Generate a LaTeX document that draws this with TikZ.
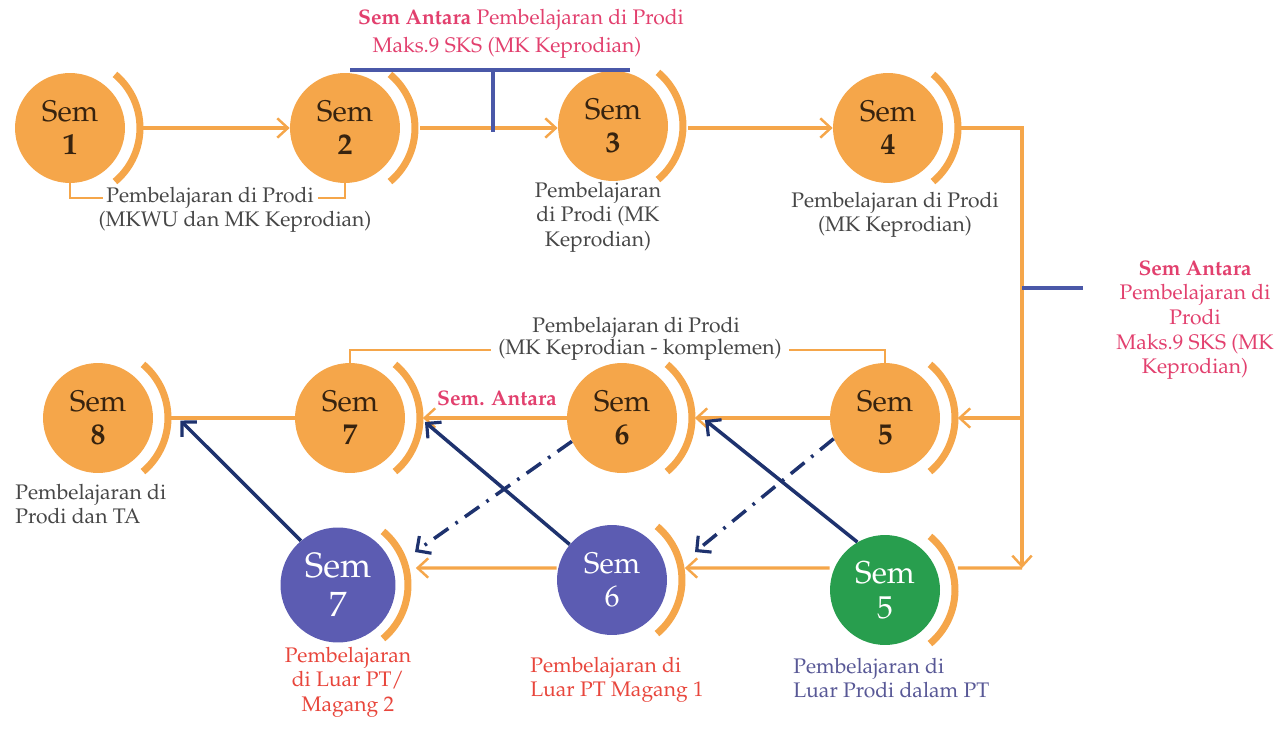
\documentclass[tikz,border=0pt]{standalone}
\usepackage[T1]{fontenc}
\usepackage{mathpazo}
\usetikzlibrary{arrows.meta}
\definecolor{orng}{RGB}{245,166,74}
\definecolor{blu}{RGB}{92,92,178}
\definecolor{grn}{RGB}{40,158,78}
\definecolor{navy}{RGB}{30,50,110}
\definecolor{pinkt}{RGB}{226,64,110}
\definecolor{redt}{RGB}{232,70,60}
\definecolor{purp}{RGB}{88,88,150}
\definecolor{brk}{RGB}{74,88,168}
\definecolor{txt}{RGB}{70,70,70}
\definecolor{semtxt}{RGB}{55,35,15}
\newcommand\cres[2]{\draw[crescent] ([shift={(-50:#2)}]#1.center) arc[start angle=-50,end angle=50,radius=#2];}
\begin{document}
\begin{tikzpicture}[x=0.02cm,y=0.02cm,
  sem/.style={circle, fill=orng, minimum size=2.2cm, inner sep=0pt, align=center,
    font=\fontsize{17}{19}\selectfont, text=semtxt},
  bsem/.style={sem, fill=blu, text=white, minimum size=2.3cm, font=\fontsize{20}{22}\selectfont},
  gsem/.style={sem, fill=grn, text=white, font=\fontsize{18}{20}\selectfont},
  crescent/.style={draw=orng, line width=4pt},
  flow/.style={draw=orng, line width=1.8pt, -{Straight Barb[length=6pt,width=11pt,line width=1.4pt]}},
  plainline/.style={draw=orng, line width=1.8pt},
  bracket/.style={draw=orng, line width=1.3pt},
  bbracket/.style={draw=brk, line width=2.4pt},
  jump/.style={draw=navy, line width=2pt, -{Straight Barb[length=6pt,width=12pt,line width=1.8pt]}},
  djump/.style={jump, dash pattern=on 10pt off 5pt on 1.5pt off 5pt},
  lbl/.style={text=txt, font=\fontsize{12}{14}\selectfont, align=center, inner sep=0pt},
  plbl/.style={lbl, text=pinkt},
  rlbl/.style={lbl, text=redt},
  ulbl/.style={lbl, text=purp}
]
\useasboundingbox (0,0) rectangle (1283,-736);

% circles
\node[sem] (s1) at (70,-128) {Sem\\\textbf{1}};
\node[sem] (s2) at (345,-128) {Sem\\\textbf{2}};
\node[sem] (s3) at (613,-126) {Sem\\\textbf{3}};
\node[sem] (s4) at (888,-128) {Sem\\\textbf{4}};
\node[sem] (s8) at (98,-418) {Sem\\\textbf{8}};
\node[sem] (s7) at (350,-418) {Sem\\\textbf{7}};
\node[sem] (s6) at (622,-418) {Sem\\\textbf{6}};
\node[sem] (s5) at (885,-418) {Sem\\\textbf{5}};
\node[bsem] (b7) at (338,-585) {Sem\\7};
\node[bsem, minimum size=2.2cm, font=\fontsize{17}{19}\selectfont] (b6) at (612,-580) {Sem\\6};
\node[gsem] (g5) at (885,-590) {Sem\\5};

\foreach \n in {s1,s2,s3,s4,s8,s7,s6,s5,b6,g5} {\cres{\n}{1.4cm}}
\cres{b7}{1.4cm}

% top row flows
\draw[flow] ([xshift=0.3cm]s1.east) -- (s2.west);
\draw[flow] ([xshift=0.4cm]s2.east) -- (s3.west |- s2.east);
\draw[flow] ([xshift=0.4cm]s3.east |- s2.east) -- (s4.west);

% right connector
\coordinate (rc) at (1022,-568);
\coordinate (rm) at (1022,-418);
\draw[flow] ([xshift=0.35cm]s4.east) -| (rc);
\draw[plainline] ([shift={(0.35cm,0.44cm)}]g5.east) -- (rc);
\draw[flow] (rm) -- ([xshift=0.35cm]s5.east);

% middle row
\draw[plainline] ([xshift=0.35cm]s8.east) -- (s7.west);
\draw[flow] (s6.west) -- ([xshift=0.35cm]s7.east);
\draw[flow] (s5.west) -- ([xshift=0.35cm]s6.east);
\node[plbl, font=\bfseries\fontsize{12}{14}\selectfont] (sa) at (497,-398) {Sem. Antara};

% bottom row
\draw[flow] ([yshift=0.44cm]g5.west) -- ([shift={(0.35cm,0.24cm)}]b6.east);
\draw[flow] ([yshift=0.24cm]b6.west) -- ([shift={(0.4cm,0.34cm)}]b7.east);

% navy jumps
\draw[jump] (b7.130) -- ([shift={(1.65cm,-0.05cm)}]s8.center);
\draw[jump] (b6.140) -- ([shift={(1.5cm,-0.08cm)}]s7.center);
\draw[jump] (g5.120) -- ([shift={(1.66cm,-0.04cm)}]s6.center);
\draw[djump] (s6.205) -- ([shift={(1.54cm,0.66cm)}]b7.center);
\draw[djump] (s5.202) -- ([shift={(1.66cm,0.56cm)}]b6.center);

% labels top
\node[lbl] (l12a) at (210,-198) {Pembelajaran di Prodi};
\node[lbl] (l12b) at (235,-222) {(MKWU dan MK Keprodian)};
\draw[bracket] (s1.south) |- ([xshift=-2pt]l12a.west);
\draw[bracket] (s2.south) |- ([xshift=2pt]l12a.east);
\node[lbl] (l3) at (598,-217) {Pembelajaran\\di Prodi (MK\\Keprodian)};
\node[lbl] (l4) at (895,-215) {Pembelajaran di Prodi\\(MK Keprodian)};

% top Sem Antara
\node[plbl] (ta1) at (521,-20) {\textbf{Sem Antara} Pembelajaran di Prodi};
\node[plbl] (ta2) at (507,-48) {Maks.9 SKS (MK Keprodian)};
\coordinate (bkL) at (350,-70);
\coordinate (bkR) at (630,-70);
\coordinate (bkM) at (493,-70);
\coordinate (bkD) at (493,-132);
\draw[bbracket] (bkL) -- (bkR);
\draw[bbracket] (bkM) -- (bkD);

% right Sem Antara
\coordinate (rj) at (1022,-288);
\coordinate (rk) at (1083,-288);
\draw[bbracket] (rj) -- (rk);
\node[plbl] (ra) at (1195,-320) {\textbf{Sem Antara}\\Pembelajaran di\\Prodi\\Maks.9 SKS (MK\\Keprodian)};

% middle bracket
\node[lbl] (lma) at (636,-328) {Pembelajaran di Prodi};
\node[lbl] (lmb) at (640,-350) {(MK Keprodian - komplemen)};
\draw[bracket] (s7.north) |- ([xshift=-4pt]lmb.west);
\draw[bracket] (s5.north) |- ([xshift=4pt]lmb.east);

% bottom labels
\node[lbl, align=left, anchor=west] (l8) at (15,-504) {Pembelajaran di\\Prodi dan TA};
\node[rlbl] (lb7) at (348,-682) {Pembelajaran\\di Luar PT/\\Magang 2};
\node[rlbl, align=left, anchor=west] (lb6) at (530,-680) {Pembelajaran di\\Luar PT Magang 1};
\node[ulbl, align=left, anchor=west] (lg5) at (793,-678) {Pembelajaran di\\Luar Prodi dalam PT};
\end{tikzpicture}
\end{document}
